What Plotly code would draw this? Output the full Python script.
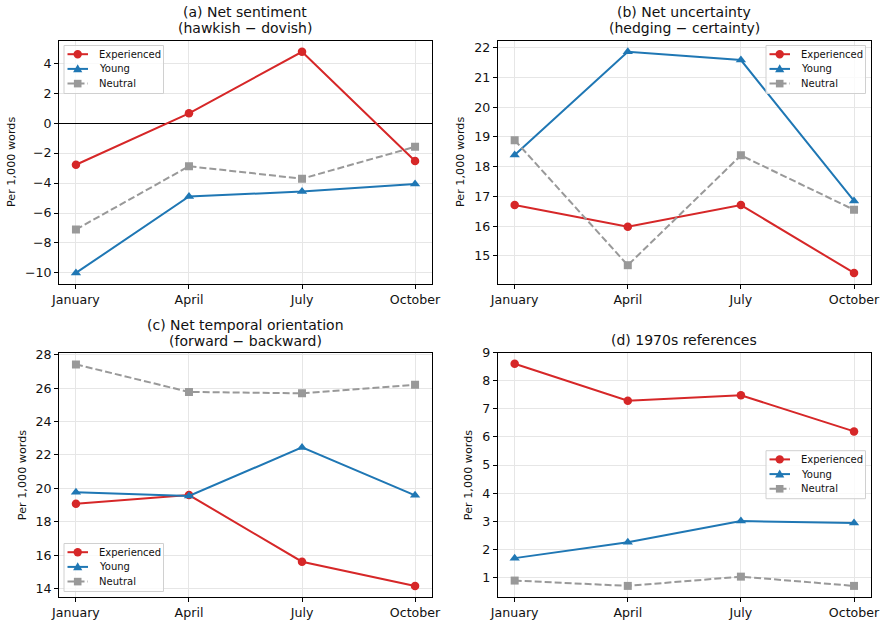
import plotly.graph_objects as go

months = ["January", "April", "July", "October"]
series_names = ["Experienced", "Young", "Neutral"]

# Panel data (per 1,000 words)
a_exp = [-2.78, 0.65, 4.76, -2.53]
a_young = [-10.0, -4.9, -4.57, -4.06]
a_neut = [-7.1, -2.88, -3.71, -1.58]

b_exp = [16.71, 15.98, 16.71, 14.43]
b_young = [18.39, 21.86, 21.58, 16.85]
b_neut = [18.89, 14.69, 18.38, 16.55]

c_exp = [19.08, 19.6, 15.61, 14.16]
c_young = [19.76, 19.54, 22.45, 19.58]
c_neut = [27.42, 25.77, 25.69, 26.2]

d_exp = [8.61, 7.29, 7.49, 6.2]
d_young = [1.68, 2.25, 3.0, 2.93]
d_neut = [0.88, 0.69, 1.02, 0.69]

panels = [
    dict(title=["(a) Net sentiment", "(hawkish \u2212 dovish)"], data=[a_exp, a_young, a_neut], dtick=2),
    dict(title=["(b) Net uncertainty", "(hedging \u2212 certainty)"], data=[b_exp, b_young, b_neut], dtick=1),
    dict(title=["(c) Net temporal orientation", "(forward \u2212 backward)"], data=[c_exp, c_young, c_neut], dtick=2),
    dict(title=["(d) 1970s references"], data=[d_exp, d_young, d_neut], dtick=1),
]

W, H = 885, 625
# plot areas in pixels: (left, right, top, bottom)
boxes = [
    (59, 432, 40.7, 284),
    (497.7, 871, 40.7, 284),
    (59, 432, 353.3, 597),
    (497.7, 871, 352.7, 597),
]
ylabel_x = [11.7, 460.7, 22, 469.3]
# legend boxes: top-left pixel corner
legend_pos = [(64, 45.5), (766, 45.5), (64, 543.5), (766, 450.7)]
LEG_W, LEG_H = 99.5, 48

colors = ["#d62728", "#1f77b4", "#999999"]
symbols = ["circle", "triangle-up", "square"]
dashes = ["solid", "solid", "7px,3px"]
msizes = [8.5, 9, 8]

fig = go.Figure()
font = "DejaVu Sans, Verdana, sans-serif"
annotations = []
shapes = []


def px(x):
    return x / W


def py(y):
    return 1 - y / H


for i, p in enumerate(panels):
    n = i + 1
    xa = "x" if n == 1 else f"x{n}"
    ya = "y" if n == 1 else f"y{n}"
    for j, name in enumerate(series_names):
        fig.add_trace(go.Scatter(
            x=list(range(len(months))), y=p["data"][j], name=name,
            mode="lines+markers", xaxis=xa, yaxis=ya, showlegend=False,
            line=dict(color=colors[j], width=2, dash=dashes[j]),
            marker=dict(symbol=symbols[j], size=msizes[j], color=colors[j]),
        ))
    vals = [v for s in p["data"] for v in s]
    lo, hi = min(vals), max(vals)
    pad = (hi - lo) * 0.05
    l, r, t, b = boxes[i]
    common = dict(showline=True, linecolor="black", linewidth=1, mirror=True,
                  ticks="outside", ticklen=4, tickcolor="black", tickwidth=1,
                  showgrid=True, gridcolor="#e6e6e6", gridwidth=1, automargin=False,
                  tickfont=dict(size=12.6, color="#111", family=font))
    fig.layout[f"xaxis{'' if n == 1 else n}"] = dict(
        domain=[l / W, r / W], anchor=ya, range=[-0.15, 3.15],
        tickvals=list(range(len(months))), ticktext=months, zeroline=False, **common)
    fig.layout[f"yaxis{'' if n == 1 else n}"] = dict(
        domain=[1 - b / H, 1 - t / H], anchor=xa, range=[lo - pad, hi + pad],
        dtick=p["dtick"], zeroline=(n == 1), zerolinecolor="black", zerolinewidth=1, **common)
    # titles
    cx = (l + r) / 2 / W
    lines = p["title"]
    for k, txt in enumerate(lines):
        ypix = t - 12.7 - (len(lines) - 1 - k) * 15.7
        annotations.append(dict(text=txt, x=cx, y=py(ypix), xref="paper", yref="paper",
                                xanchor="center", yanchor="middle", showarrow=False,
                                font=dict(size=14, color="#111", family=font)))
    annotations.append(dict(text="Per 1,000 words", x=px(ylabel_x[i]), y=py((t + b) / 2),
                            xref="paper", yref="paper", xanchor="center", yanchor="middle",
                            textangle=-90, showarrow=False,
                            font=dict(size=11.2, color="#111", family=font)))

    # legend box drawn in matplotlib style
    lx, ly = legend_pos[i]
    shapes.append(dict(type="rect", xref="paper", yref="paper", layer="above",
                       x0=px(lx), x1=px(lx + LEG_W), y0=py(ly), y1=py(ly + LEG_H),
                       fillcolor="rgba(255,255,255,0.8)",
                       line=dict(color="#d0d0d0", width=1)))
    for j, name in enumerate(series_names):
        ey = ly + 8.7 + j * 14.7
        shapes.append(dict(type="line", xref="paper", yref="paper", layer="above",
                           x0=px(lx + 3.5), x1=px(lx + 24), y0=py(ey), y1=py(ey),
                           line=dict(color=colors[j], width=2, dash=dashes[j])))
        mx = lx + 13.7
        if symbols[j] == "circle":
            rr = 4.2
            shapes.append(dict(type="circle", xref="paper", yref="paper", layer="above",
                               x0=px(mx - rr), x1=px(mx + rr), y0=py(ey + rr), y1=py(ey - rr),
                               fillcolor=colors[j], line=dict(width=0)))
        elif symbols[j] == "square":
            rr = 3.8
            shapes.append(dict(type="rect", xref="paper", yref="paper", layer="above",
                               x0=px(mx - rr), x1=px(mx + rr), y0=py(ey + rr), y1=py(ey - rr),
                               fillcolor=colors[j], line=dict(width=0)))
        else:
            pts = [(mx, ey - 4.6), (mx + 4.6, ey + 3.4), (mx - 4.6, ey + 3.4)]
            path = "M " + " L ".join(f"{px(a):.5f},{py(b2):.5f}" for a, b2 in pts) + " Z"
            shapes.append(dict(type="path", xref="paper", yref="paper", layer="above",
                               path=path, fillcolor=colors[j], line=dict(width=0)))
        annotations.append(dict(text=name, x=px(lx + 32.5), y=py(ey), xref="paper", yref="paper",
                                xanchor="left", yanchor="middle", showarrow=False,
                                font=dict(size=10, color="#111", family=font)))

fig.update_layout(width=W, height=H, autosize=False,
                  margin=dict(l=0, r=0, t=0, b=0, pad=0, autoexpand=False),
                  paper_bgcolor="white", plot_bgcolor="white", showlegend=False,
                  annotations=annotations, shapes=shapes, font=dict(family=font))

fig.write_html("out.html",
               post_script="document.body.style.margin='0';document.body.style.padding='0';")
